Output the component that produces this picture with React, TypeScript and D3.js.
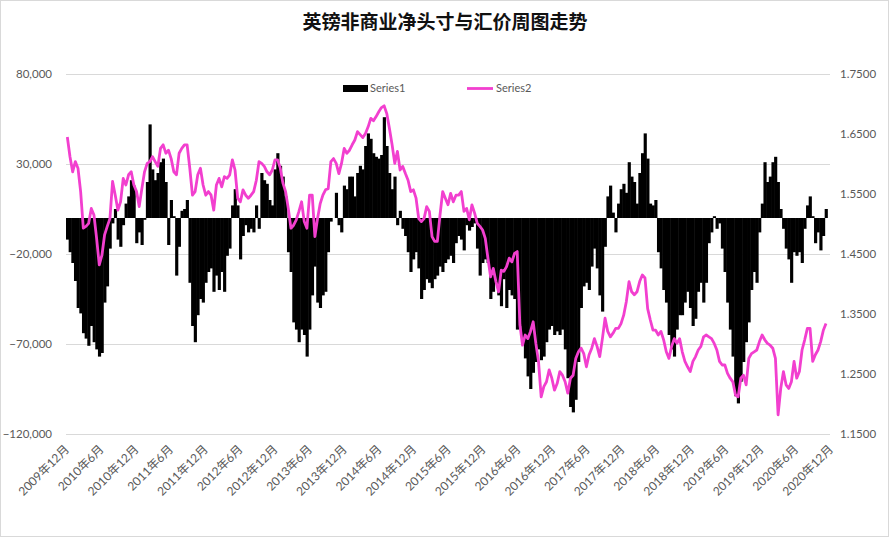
import * as d3 from "d3";
import React, { useEffect, useRef } from "react";

// biweekly samples, Dec 2009 .. Nov 2020
const startDate = new Date(2009, 11, 1);
const endDate = new Date(2020, 11, 1);
const stepDays = 14;

// GBP non-commercial net position (contracts)
const netPosition = [
  -12000, -19000, -25000, -35000, -50000, -53000, -64000, -67000, -71000, -60000, -69000, -73000, -77000,
  -75000, -47000, -38000, -17000, -3000, 5000, -12000, -16000, -4000, 8000, 12000, 21000, 18000,
  -14000, -8000, -15000, -1000, 20000, 52000, 27000, 21000, 25000, 31000, 33000, 20000, -15000,
  10000, 1000, -32000, -16000, 4000, 5000, 10000, -36000, -60000, -69000, -54000, -45000, -47000,
  -36000, -30000, -28000, -41000, -32000, -40000, -30000, -41000, -21000, -17000, 7000, 16000, 7000,
  -23000, -10000, -4000, -8000, -6000, -8000, 7000, -6000, 25000, 21000, 19000, 10000, 7000,
  27000, 36000, 29000, 23000, 12000, -19000, -30000, -58000, -62000, -69000, -62000, -65000, -77000,
  -62000, -43000, -27000, -47000, -50000, -43000, -41000, -19000, -2000, 0, 14000, -4000, -8000,
  18000, 16000, 23000, 23000, 12000, 25000, 29000, 27000, 40000, 47000, 44000, 36000, 34000,
  33000, 35000, 56000, 40000, 25000, 16000, 23000, -4000, 4000, -6000, -10000, -19000, -30000,
  -23000, -19000, -28000, -45000, -40000, -34000, -36000, -39000, -34000, -32000, -27000, -30000, -25000,
  -23000, -21000, -25000, -14000, -10000, -12000, -18000, -4000, -7000, -5000, -3000, -17000, -32000,
  -25000, -23000, -25000, -45000, -41000, -36000, -43000, -49000, -34000, -50000, -40000, -43000, -45000,
  -62000, -60000, -67000, -78000, -88000, -95000, -86000, -80000, -73000, -79000, -77000, -69000, -62000,
  -60000, -65000, -63000, -65000, -62000, -73000, -89000, -105000, -108000, -101000, -80000, -50000, -38000,
  -36000, -40000, -27000, -17000, -28000, -43000, -52000, -16000, 12000, 18000, 3000, -8000, 8000,
  16000, 19000, 14000, 31000, 23000, 20000, 8000, 25000, 36000, 47000, 33000, 8000, 7000,
  10000, -19000, -28000, -40000, -47000, -65000, -73000, -77000, -62000, -54000, -54000, -47000, -41000,
  -50000, -60000, -56000, -41000, -36000, -47000, -36000, -14000, -8000, 1000, -6000, -3000, -17000,
  -30000, -47000, -62000, -77000, -99000, -103000, -91000, -80000, -69000, -58000, -40000, -30000, -36000,
  -8000, 8000, 31000, 20000, 23000, 31000, 34000, 20000, 5000, -6000, -17000, -23000, -36000,
  -19000, -21000, -19000, -25000, -6000, 7000, 12000, 1000, -14000, -8000, -18000, -10000, 5000,
];

// GBP/USD
const gbpUsd = [
  1.645, 1.612, 1.587, 1.604, 1.593, 1.554, 1.493, 1.496, 1.501, 1.526, 1.515, 1.476, 1.432,
  1.448, 1.482, 1.496, 1.509, 1.571, 1.548, 1.523, 1.537, 1.576, 1.565, 1.582, 1.587, 1.565,
  1.554, 1.529, 1.559, 1.587, 1.601, 1.604, 1.612, 1.604, 1.596, 1.626, 1.632, 1.618, 1.623,
  1.609, 1.587, 1.582, 1.618, 1.626, 1.632, 1.632, 1.593, 1.548, 1.554, 1.582, 1.593, 1.565,
  1.548, 1.554, 1.548, 1.523, 1.565, 1.576, 1.562, 1.579, 1.576, 1.582, 1.607, 1.59, 1.543,
  1.537, 1.557, 1.548, 1.543, 1.548, 1.554, 1.573, 1.604, 1.601, 1.596, 1.587, 1.582, 1.59,
  1.607, 1.607, 1.593, 1.568, 1.554, 1.526, 1.493, 1.498, 1.507, 1.521, 1.537, 1.504, 1.493,
  1.548, 1.548, 1.479, 1.509, 1.534, 1.548, 1.557, 1.559, 1.604, 1.609, 1.601, 1.584, 1.601,
  1.626, 1.618, 1.623, 1.632, 1.64, 1.654, 1.649, 1.644, 1.651, 1.662, 1.676, 1.672, 1.679,
  1.687, 1.694, 1.697, 1.684, 1.659, 1.632, 1.601, 1.621, 1.59, 1.596, 1.584, 1.573, 1.554,
  1.557, 1.543, 1.509, 1.504, 1.509, 1.529, 1.521, 1.479, 1.471, 1.471, 1.515, 1.554, 1.543,
  1.532, 1.551, 1.537, 1.548, 1.548, 1.554, 1.521, 1.526, 1.507, 1.532, 1.518, 1.501, 1.496,
  1.49, 1.476, 1.443, 1.412, 1.426, 1.404, 1.387, 1.423, 1.421, 1.429, 1.443, 1.437, 1.451,
  1.454, 1.332, 1.298, 1.315, 1.309, 1.321, 1.337, 1.301, 1.271, 1.212, 1.229, 1.237, 1.257,
  1.243, 1.223, 1.234, 1.254, 1.248, 1.237, 1.218, 1.243, 1.248, 1.276, 1.287, 1.293, 1.284,
  1.262, 1.282, 1.293, 1.309, 1.296, 1.279, 1.309, 1.343, 1.321, 1.312, 1.318, 1.326, 1.326,
  1.334, 1.348, 1.371, 1.404, 1.387, 1.382, 1.387, 1.404, 1.415, 1.41, 1.359, 1.34, 1.323,
  1.323, 1.315, 1.321, 1.307, 1.287, 1.276, 1.296, 1.309, 1.301, 1.309, 1.287, 1.271, 1.262,
  1.254, 1.271, 1.279, 1.29, 1.296, 1.312, 1.315, 1.312, 1.309, 1.301, 1.29, 1.271, 1.265,
  1.265, 1.251, 1.243, 1.237, 1.215, 1.212, 1.243, 1.248, 1.232, 1.276, 1.284, 1.287, 1.29,
  1.304, 1.315, 1.307, 1.301, 1.298, 1.293, 1.276, 1.182, 1.226, 1.254, 1.232, 1.226, 1.237,
  1.271, 1.243, 1.254, 1.29, 1.307, 1.326, 1.326, 1.271, 1.282, 1.29, 1.304, 1.323, 1.334,
];

const leftTicks = [80000, 30000, -20000, -70000, -120000];
const rightTicks = [1.75, 1.65, 1.55, 1.45, 1.35, 1.25, 1.15];
const seriesNames = ["Series1", "Series2"];
const title = "英镑非商业净头寸与汇价周图走势";

const textColor = "#595959";
const gridColor = "#d9d9d9";
const lineColor = "#f23fcf";

const App = () => {
  const svgRef = useRef(null);

  useEffect(() => {
    const width = 890;
    const height = 537;
    const plot = { left: 66, right: 830, top: 74, bottom: 434 };
    const font = "Lato, 'Noto Sans', sans-serif";

    const svg = d3.select(svgRef.current);
    svg.selectAll("*").remove();
    svg.attr("width", width).attr("height", height).attr("viewBox", [0, 0, width, height]);

    svg.append("rect")
      .attr("x", 0.5).attr("y", 0.5)
      .attr("width", width - 2).attr("height", height - 1)
      .attr("fill", "#fff").attr("stroke", gridColor);

    const dates = netPosition.map((_, i) => d3.timeDay.offset(startDate, i * stepDays));

    const x = d3.scaleTime().domain([startDate, endDate]).range([plot.left, plot.right]);
    const yL = d3.scaleLinear().domain([-120000, 80000]).range([plot.bottom, plot.top]);
    const yR = d3.scaleLinear().domain([1.15, 1.75]).range([plot.bottom, plot.top]);

    // title
    svg.append("text")
      .attr("x", 445).attr("y", 29)
      .attr("text-anchor", "middle")
      .attr("font-family", "'Noto Sans CJK SC', sans-serif")
      .attr("font-weight", "bold")
      .attr("font-size", 19)
      .attr("fill", "#111")
      .text(title);

    // gridlines
    svg.append("g")
      .selectAll("line")
      .data(leftTicks)
      .join("line")
      .attr("x1", plot.left).attr("x2", plot.right)
      .attr("y1", (d) => Math.round(yL(d)) + 0.5)
      .attr("y2", (d) => Math.round(yL(d)) + 0.5)
      .attr("stroke", gridColor);

    // left axis labels
    svg.append("g")
      .selectAll("text")
      .data(leftTicks)
      .join("text")
      .attr("x", 52).attr("y", (d) => yL(d))
      .attr("dy", "0.35em")
      .attr("text-anchor", "end")
      .attr("font-family", font).attr("font-size", 11.5)
      .attr("fill", textColor)
      .text((d) => d3.format(",")(d));

    // right axis labels
    svg.append("g")
      .selectAll("text")
      .data(rightTicks)
      .join("text")
      .attr("x", 840).attr("y", (d) => yR(d))
      .attr("dy", "0.35em")
      .attr("font-family", font).attr("font-size", 11.5)
      .attr("fill", textColor)
      .text((d) => d.toFixed(4));

    // x labels every 6 months, starting Dec 2009
    const monthCount = d3.timeMonth.count(startDate, endDate);
    const ticks = d3.range(0, monthCount + 1, 6).map((m) => d3.timeMonth.offset(startDate, m));
    svg.append("g")
      .selectAll("text")
      .data(ticks)
      .join("text")
      .attr("transform", (d) => `translate(${x(d) + 1}, 447) rotate(-45)`)
      .attr("dy", "0.35em")
      .attr("text-anchor", "end")
      .attr("font-family", "Lato, 'Noto Sans CJK SC', sans-serif")
      .attr("font-size", 12)
      .attr("fill", textColor)
      .text((d) => `${d.getFullYear()}年${d.getMonth() + 1}月`);

    // bars
    const y0 = yL(0);
    svg.append("g")
      .selectAll("rect")
      .data(netPosition)
      .join("rect")
      .attr("x", (d, i) => x(dates[i]))
      .attr("width", (d, i) => x(d3.timeDay.offset(dates[i], stepDays)) - x(dates[i]) + 0.5)
      .attr("y", (d) => Math.min(yL(d), y0))
      .attr("height", (d) => Math.abs(yL(d) - y0))
      .attr("fill", "#000");

    // line
    const half = (x(d3.timeDay.offset(startDate, stepDays)) - x(startDate)) / 2;
    const line = d3.line()
      .x((d, i) => x(dates[i]) + half)
      .y((d) => yR(d));
    svg.append("path")
      .datum(gbpUsd)
      .attr("d", line)
      .attr("fill", "none")
      .attr("stroke", lineColor)
      .attr("stroke-width", 2.8)
      .attr("stroke-linejoin", "round");

    // legend
    const legend = svg.append("g").attr("font-family", font).attr("font-size", 11).attr("fill", textColor);
    legend.append("rect").attr("x", 343).attr("y", 85).attr("width", 25).attr("height", 7).attr("fill", "#000");
    legend.append("text").attr("x", 370).attr("y", 88.5).attr("dy", "0.35em").text(seriesNames[0]);
    legend.append("line")
      .attr("x1", 467).attr("x2", 493).attr("y1", 88.5).attr("y2", 88.5)
      .attr("stroke", lineColor).attr("stroke-width", 2.8);
    legend.append("text").attr("x", 496).attr("y", 88.5).attr("dy", "0.35em").text(seriesNames[1]);
  }, []);

  return (
    <svg ref={svgRef} style={{ position: "absolute", left: 0, top: 0, display: "block" }} />
  );
};

export default App;
